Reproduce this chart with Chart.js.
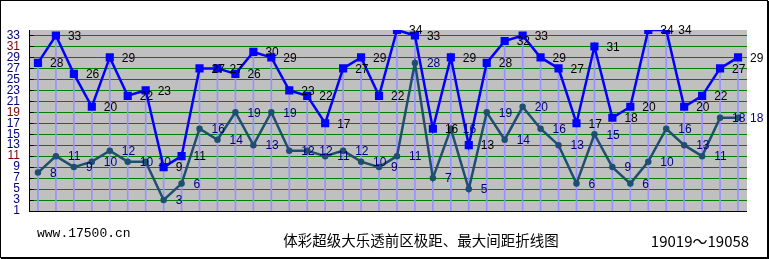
<!DOCTYPE html>
<html>
<head>
<meta charset="utf-8">
<script src="https://cdn.jsdelivr.net/npm/chart.js@4"></script>
<style>
  html, body { margin: 0; padding: 0; background: #fff; }
  #wrap { width: 769px; height: 259px; }
</style>
</head>
<body>
<div id="wrap"><canvas id="chart" width="769" height="259"></canvas></div>
<script>
// periods 19019 ~ 19058
const periods = [
  "19019", "19020", "19021", "19022", "19023", "19024", "19025", "19026", "19027", "19028",
  "19029", "19030", "19031", "19032", "19033", "19034", "19035", "19036", "19037", "19038",
  "19039", "19040", "19041", "19042", "19043", "19044", "19045", "19046", "19047", "19048",
  "19049", "19050", "19051", "19052", "19053", "19054", "19055", "19056", "19057", "19058"
];

// 极距 (blue)
const rangeValues = [
  28, 33, 26, 20, 29, 22, 23, 9, 11, 27,
  27, 26, 30, 29, 23, 22, 17, 27, 29, 22,
  34, 33, 16, 29, 13, 28, 32, 33, 29, 27,
  17, 31, 18, 20, 34, 34, 20, 22, 27, 29
];

// 最大间距 (dark)
const gapValues = [
  8, 11, 9, 10, 12, 10, 10, 3, 6, 16,
  14, 19, 13, 19, 12, 12, 11, 12, 10, 9,
  11, 28, 7, 16, 5, 19, 14, 20, 16, 13,
  6, 15, 9, 6, 10, 16, 13, 11, 18, 18
];

const yTicks = [1, 3, 5, 7, 9, 11, 13, 15, 17, 19, 21, 23, 25, 27, 29, 31, 33];
const maroonTicks = [31, 19, 11];

const siteText = "www.17500.cn";
const titleText = "体彩超级大乐透前区极距、最大间距折线图";
const rangeText = "19019～19058";

// Draw background, tick marks, point labels and footer text
const decor = {
  id: "decor",
  beforeDraw(chart) {
    const { ctx, chartArea: a } = chart;
    ctx.save();
    ctx.fillStyle = "#fff";
    ctx.fillRect(0, 0, chart.width, chart.height);
    ctx.fillStyle = "#c0c0c0";
    ctx.fillRect(a.left, a.top, a.right - a.left, a.bottom - a.top);
    ctx.restore();
  },
  afterDatasetsDraw(chart) {
    const { ctx, chartArea: a } = chart;
    const y = chart.scales.y;
    ctx.save();
    // black tick marks inside the plot
    ctx.strokeStyle = "#000";
    ctx.lineWidth = 1;
    yTicks.forEach((v) => {
      const py = Math.round(y.getPixelForValue(v)) + 0.5;
      ctx.beginPath();
      ctx.moveTo(a.left, py);
      ctx.lineTo(a.left + 5, py);
      ctx.stroke();
    });
    // axes
    ctx.beginPath();
    ctx.moveTo(a.left + 0.5, a.top);
    ctx.lineTo(a.left + 0.5, a.bottom + 0.5);
    ctx.lineTo(a.right, a.bottom + 0.5);
    ctx.stroke();

    // point labels
    ctx.font = "12px 'Liberation Sans', Arial, sans-serif";
    ctx.textAlign = "left";
    ctx.textBaseline = "middle";
    const blue = chart.getDatasetMeta(2).data;
    const dark = chart.getDatasetMeta(1).data;
    ctx.fillStyle = "#000080";
    dark.forEach((p, i) => ctx.fillText(String(gapValues[i]), p.x + 12, p.y + 1));
    ctx.fillStyle = "#000";
    blue.forEach((p, i) => ctx.fillText(String(rangeValues[i]), p.x + 12, p.y + 1));
    ctx.restore();
  },
  afterDraw(chart) {
    const { ctx } = chart;
    ctx.save();
    ctx.fillStyle = "#000";
    ctx.textBaseline = "middle";
    ctx.font = "13px 'Liberation Mono', monospace";
    ctx.textAlign = "left";
    ctx.fillText(siteText, 37, 234);
    ctx.font = "14.5px 'Noto Sans CJK SC', sans-serif";
    ctx.textAlign = "center";
    ctx.fillText(titleText, 421, 240);
    ctx.font = "15px 'Noto Sans CJK SC', sans-serif";
    ctx.fillText(rangeText, 700, 241);
    // outer frame
    ctx.strokeStyle = "#000";
    ctx.lineWidth = 1;
    ctx.strokeRect(0.5, 0.5, 767, 257);
    ctx.beginPath();
    ctx.moveTo(768.5, 1);
    ctx.lineTo(768.5, 259);
    ctx.moveTo(1, 258.5);
    ctx.lineTo(769, 258.5);
    ctx.stroke();
    ctx.restore();
  }
};

const ctx = document.getElementById("chart").getContext("2d");
new Chart(ctx, {
  data: {
    labels: periods,
    datasets: [
      {
        // drop lines from the blue points
        type: "bar",
        data: rangeValues,
        backgroundColor: "#9494ff",
        barThickness: 1,
        order: 3
      },
      {
        type: "line",
        label: "最大间距",
        data: gapValues,
        borderColor: "#1f4f70",
        backgroundColor: "#1f4f70",
        borderWidth: 2.5,
        pointRadius: 2,
        pointStyle: "circle",
        tension: 0,
        order: 2
      },
      {
        type: "line",
        label: "极距",
        data: rangeValues,
        borderColor: "#0000ff",
        backgroundColor: "#0000ff",
        borderWidth: 2.5,
        pointRadius: 4,
        pointStyle: "rect",
        tension: 0,
        order: 1
      }
    ]
  },
  options: {
    responsive: false,
    animation: false,
    layout: { padding: { top: 30, right: 22, bottom: 48, left: 0 } },
    plugins: {
      legend: { display: false },
      tooltip: { enabled: false }
    },
    scales: {
      x: {
        type: "category",
        display: false,
        offset: true,
        grid: { display: false }
      },
      y: {
        min: 1,
        max: 34,
        afterBuildTicks: (s) => { s.ticks = yTicks.map((v) => ({ value: v })); },
        afterFit: (s) => { s.width = 29; },
        border: { display: false },
        grid: {
          color: "#008000",
          lineWidth: 1,
          drawTicks: false
        },
        ticks: {
          padding: 9,
          autoSkip: false,
          font: { family: "'Liberation Sans', Arial, sans-serif", size: 12 },
          color: (c) => maroonTicks.includes(c.tick.value) ? "#800000" : "#000080"
        }
      }
    }
  },
  plugins: [decor]
});
</script>
</body>
</html>
